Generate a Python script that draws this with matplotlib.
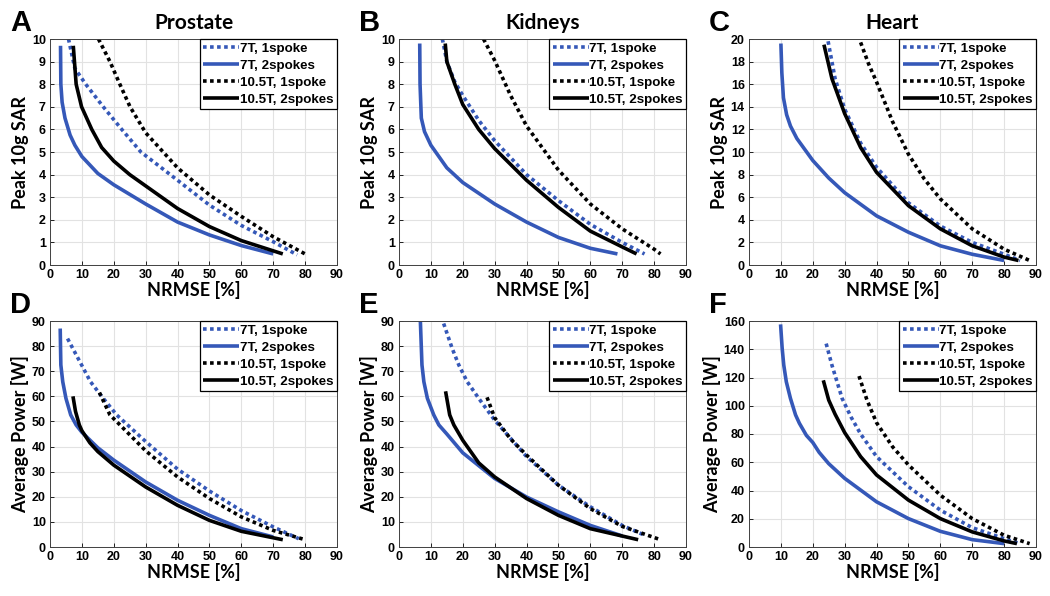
import matplotlib
matplotlib.use("Agg")
from matplotlib import pyplot as plt

# x = NRMSE [%], y = peak 10g SAR (top row) or average power [W] (bottom row)
# each curve: list of (x, y) points

# A - Prostate, SAR
a_7t_1spoke = [(5.8, 10.0), (7.8, 8.7), (11.2, 8.0), (16.7, 7.0), (22.5, 6.0), (28.5, 5.0),
               (40, 3.75), (50, 2.65), (60, 1.75), (70, 1.03), (77.5, 0.45)]
a_7t_2spokes = [(3.3, 9.7), (3.4, 8.0), (3.8, 7.2), (4.7, 6.5), (6.3, 5.75), (7.8, 5.3), (10, 4.8),
                (15, 4.05), (20, 3.55), (30, 2.7), (40, 1.9), (50, 1.33), (60, 0.86), (70, 0.49)]
a_105t_1spoke = [(15.2, 10.0), (18.8, 9.0), (21.9, 8.0), (25.1, 7.0), (30, 5.85), (40, 4.3),
                 (50, 3.1), (60, 2.15), (70, 1.25), (80, 0.49)]
a_105t_2spokes = [(7.3, 9.7), (8.2, 8.0), (9.9, 7.0), (13.1, 6.0), (16.2, 5.2), (20, 4.6),
                  (25, 4.0), (30, 3.5), (40, 2.5), (50, 1.7), (60, 1.08), (73, 0.49)]

# B - Kidneys, SAR
b_7t_1spoke = [(13.6, 10.0), (15, 9.0), (17.5, 8.1), (20, 7.5), (25, 6.4), (30, 5.5), (40, 4.0),
               (50, 2.85), (60, 1.8), (70, 1.0), (77, 0.49)]
b_7t_2spokes = [(6.5, 9.8), (6.6, 8.0), (7.0, 6.5), (8, 5.9), (10, 5.3), (15, 4.3), (20, 3.65),
                (30, 2.7), (40, 1.9), (50, 1.22), (60, 0.74), (68.5, 0.49)]
b_105t_1spoke = [(26.5, 10.0), (30, 9.05), (35, 7.5), (40, 6.15), (50, 4.2), (60, 2.7),
                 (70, 1.6), (80, 0.7), (82, 0.49)]
b_105t_2spokes = [(14.5, 9.8), (15, 9.0), (17.5, 8.0), (20, 7.1), (25, 6.0), (30, 5.15), (40, 3.75),
                  (50, 2.55), (60, 1.5), (70, 0.8), (74.5, 0.49)]

# C - Heart, SAR
c_7t_1spoke = [(24.8, 19.8), (27, 16.5), (30, 13.8), (35, 10.8), (40, 8.65), (50, 5.5),
               (60, 3.45), (70, 2.0), (80, 0.95), (85, 0.4)]
c_7t_2spokes = [(10, 19.6), (10.3, 17.0), (10.8, 14.8), (11.8, 13.3), (13, 12.3), (15, 11.2),
                (20, 9.25), (25, 7.7), (30, 6.4), (40, 4.35), (50, 2.9), (60, 1.7), (70, 0.95), (80, 0.4)]
c_105t_1spoke = [(35, 19.7), (37.5, 17.8), (40, 16.2), (45, 12.7), (50, 9.8), (55, 7.6),
                 (60, 5.85), (70, 3.2), (80, 1.4), (88, 0.4)]
c_105t_2spokes = [(23.5, 19.5), (26, 16.5), (30, 13.4), (35, 10.4), (40, 8.2), (50, 5.25),
                  (60, 3.2), (70, 1.7), (80, 0.7), (84.5, 0.4)]

# D - Prostate, power
d_7t_1spoke = [(5.5, 83), (9.9, 72.5), (12.7, 65.8), (16.7, 59.2), (20.9, 52.6), (30, 42),
               (40, 31), (50, 22.3), (60, 14.5), (70, 8.0), (78, 3.3)]
d_7t_2spokes = [(3.2, 87), (3.4, 72.5), (4.0, 65.8), (5.0, 59.2), (6.5, 52.6), (8.2, 48.6),
                (10, 45.7), (15, 39.5), (20, 34.6), (30, 25.9), (40, 18.6), (50, 12.6), (60, 7.3), (70, 4.0)]
d_105t_1spoke = [(15.5, 61.5), (18.8, 52.6), (21.4, 49.3), (30, 38.3), (40, 27.9), (50, 19.3),
                 (60, 12.0), (70, 6.6), (80, 2.9)]
d_105t_2spokes = [(7.2, 60), (8.0, 54), (9.2, 48.6), (10, 46.3), (12.5, 41.5), (15, 38), (20, 32.6),
                  (30, 23.9), (40, 16.6), (50, 10.6), (60, 6.25), (73, 2.9)]

# E - Kidneys, power
e_7t_1spoke = [(14, 89), (16.7, 79), (18.75, 72.5), (21.4, 65.8), (25, 59.2), (30, 50.5),
               (40, 36), (50, 24.6), (60, 16.0), (70, 8.6), (77, 4.7)]
e_7t_2spokes = [(6.7, 90), (7.2, 72.5), (7.8, 65.8), (8.9, 59.2), (10.9, 52.6), (12.5, 48.6),
                (15, 45), (20, 37.5), (30, 27.3), (40, 19.9), (50, 14.0), (60, 8.6), (70, 4.4)]
e_105t_1spoke = [(27.6, 59.6), (30, 51.5), (35, 43.0), (40, 36.6), (50, 24.6), (60, 15.3),
                 (70, 8.2), (82, 2.9)]
e_105t_2spokes = [(14.6, 62), (15.9, 52.6), (17.2, 48.6), (20, 42.5), (25, 33.5), (30, 27.9),
                  (40, 19.3), (50, 12.6), (60, 7.3), (75, 2.9)]

# F - Heart, power
f_7t_1spoke = [(24.2, 144), (26, 128.8), (27.6, 117), (29.2, 105.2), (32, 92), (35, 80), (40, 64),
               (50, 42.7), (60, 26.1), (70, 13.7), (80, 5.9), (85, 2.4)]
f_7t_2spokes = [(9.9, 157.6), (10.4, 140.7), (10.9, 128.8), (11.7, 117), (13, 105.2), (14.6, 93.5),
                (15.8, 87.6), (18, 79), (20, 74), (22, 67), (25, 59), (30, 48.6), (40, 32), (50, 20.1),
                (60, 11.1), (70, 5.2), (80, 2.4)]
f_105t_1spoke = [(34.5, 121), (37, 104), (40, 88), (45, 71), (50, 58.1), (60, 36.7), (70, 20.1),
                 (80, 8.3), (88, 2.4)]
f_105t_2spokes = [(23.3, 118), (25, 104), (27, 94), (30, 81), (35, 64), (40, 51), (50, 33.2),
                  (60, 20.1), (70, 10.7), (80, 4.3), (84, 2.4)]

series_labels = ["7T, 1spoke", "7T, 2spokes", "10.5T, 1spoke", "10.5T, 2spokes"]
organs = ["Prostate", "Kidneys", "Heart"]
letters = ["A", "B", "C", "D", "E", "F"]
x_ticks = list(range(0, 91, 10))

panels = [
    [a_7t_1spoke, a_7t_2spokes, a_105t_1spoke, a_105t_2spokes],
    [b_7t_1spoke, b_7t_2spokes, b_105t_1spoke, b_105t_2spokes],
    [c_7t_1spoke, c_7t_2spokes, c_105t_1spoke, c_105t_2spokes],
    [d_7t_1spoke, d_7t_2spokes, d_105t_1spoke, d_105t_2spokes],
    [e_7t_1spoke, e_7t_2spokes, e_105t_1spoke, e_105t_2spokes],
    [f_7t_1spoke, f_7t_2spokes, f_105t_1spoke, f_105t_2spokes],
]
y_limits = [(10, 1), (10, 1), (20, 2), (90, 10), (90, 10), (160, 20)]

blue = "#3558b8"
styles = [(blue, (0, (1.0, 0.95))), (blue, "-"), ("black", (0, (1.0, 0.95))), ("black", "-")]

fig = plt.figure(figsize=(10.5, 5.96), dpi=100)
lefts = [50, 399, 749]
tops = [39, 321]

for i in range(6):
    row, col = i // 3, i % 3
    ax = fig.add_axes([lefts[col] / 1050, 1 - (tops[row] + 226) / 596, 287 / 1050, 226 / 596])
    for curve, (color, ls), lab in zip(panels[i], styles, series_labels):
        xs = [p[0] for p in curve]
        ys = [p[1] for p in curve]
        ax.plot(xs, ys, color=color, linestyle=ls, linewidth=2.6, label=lab,
                dash_capstyle="butt", solid_capstyle="butt", solid_joinstyle="round")
    ymax, ystep = y_limits[i]
    ax.set_xlim(0, 90)
    ax.set_ylim(0, ymax)
    ax.set_xticks(x_ticks)
    ax.set_yticks(list(range(0, ymax + 1, ystep)))
    ax.grid(True, color="#e2e2e2", linewidth=0.8)
    ax.set_axisbelow(True)
    ax.tick_params(direction="in", length=3, width=0.6, labelsize=9, pad=3)
    for t in ax.get_xticklabels() + ax.get_yticklabels():
        t.set_fontweight("bold")
        t.set_family("Liberation Sans")
    for s in ax.spines.values():
        s.set_color("#404040")
        s.set_linewidth(0.7)
    ax.set_xlabel("NRMSE [%]", fontsize=13, fontweight="bold", family="Lato", labelpad=0)
    ax.set_ylabel("Peak 10g SAR" if row == 0 else "Average Power [W]",
                  fontsize=13, fontweight="bold", family="Lato", labelpad=2)
    if row == 0:
        ax.set_title(organs[col], fontsize=15, fontweight="bold", family="Lato", pad=7)
    leg = ax.legend(loc="upper right", fancybox=False, framealpha=1, edgecolor="black",
                    borderaxespad=0, handlelength=2.7, handletextpad=0.05, labelspacing=0.35,
                    borderpad=0.25, prop={"family": "Liberation Sans", "weight": "bold", "size": 9.6})
    leg.get_frame().set_linewidth(0.9)
    fig.text((lefts[col] - 40) / 1050, 1 - (tops[row] - 2) / 596, letters[i], fontsize=21,
             fontweight="bold", family="Liberation Sans", va="bottom", ha="left")

fig.savefig("out.png", dpi=100)
